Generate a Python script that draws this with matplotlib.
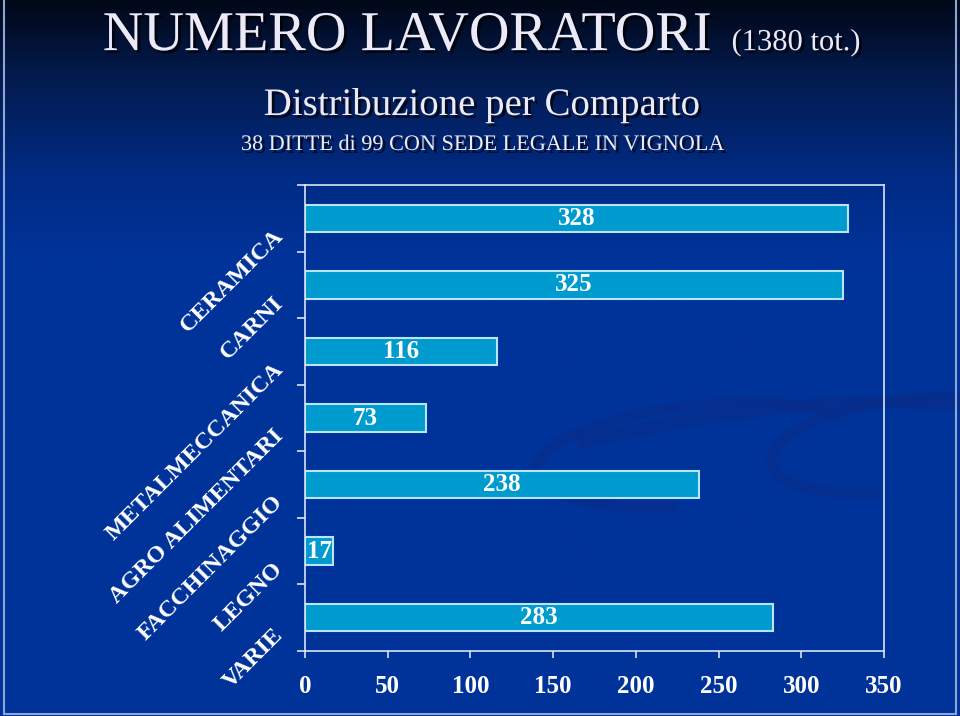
import numpy as np
import matplotlib
matplotlib.use("Agg")
import matplotlib.pyplot as plt
import matplotlib.patheffects as pe
from matplotlib.colors import LinearSegmentedColormap
from matplotlib.patches import Arc
from matplotlib.transforms import blended_transform_factory

plt.rcParams['font.family'] = ['Liberation Serif', 'DejaVu Serif']

categories = ['CERAMICA', 'CARNI', 'METALMECCANICA', 'AGRO ALIMENTARI',
              'FACCHINAGGIO', 'LEGNO', 'VARIE']
workers = [328, 325, 116, 73, 238, 17, 283]
x_ticks = [0, 50, 100, 150, 200, 250, 300, 350]

fig = plt.figure(figsize=(9.6, 7.16), dpi=100)

# background: dark navy at top fading into slide blue
bg = fig.add_axes([0, 0, 1, 1], zorder=-10)
cmap = LinearSegmentedColormap.from_list(
    'slide', [(0, '#010818'), (0.1, '#031a4c'), (0.25, '#012b86'),
              (0.36, '#003399'), (1, '#003399')])
grad = np.linspace(0, 1, 400).reshape(-1, 1)
bg.imshow(grad, cmap=cmap, aspect='auto', extent=[0, 960, 716, 0])
bg.set_xlim(0, 960)
bg.set_ylim(716, 0)
bg.axis('off')
# faint swooshes of the slide template
sw = '#0a2c86'
bg.add_patch(Arc((700, 455), 330, 100, angle=-6, theta1=120, theta2=350, color=sw, lw=8, alpha=0.45))
bg.add_patch(Arc((900, 445), 260, 90, angle=-8, theta1=120, theta2=330, color=sw, lw=8, alpha=0.45))
bg.add_patch(Arc((650, 560), 900, 260, angle=-12, theta1=250, theta2=350, color=sw, lw=10, alpha=0.45))
# light frame at slide edges
bg.plot([4, 4], [0, 714], color='#8ea6d6', lw=1.5)
bg.plot([4, 956], [714, 714], color='#8ea6d6', lw=1.5)
bg.plot([956, 956], [0, 714], color='#8ea6d6', lw=1.5)

shadow = [pe.SimplePatchShadow(offset=(2, -2), shadow_rgbFace='#000000', alpha=0.7), pe.Normal()]
txt_color = '#ECEAF8'
fig.text(0.107, 0.930, 'NUMERO LAVORATORI', fontsize=40.5, color=txt_color,
         ha='left', va='baseline', path_effects=shadow)
fig.text(0.762, 0.930, '(1380 tot.)', fontsize=22, color=txt_color,
         ha='left', va='baseline', path_effects=shadow)
fig.text(0.502, 0.8394, 'Distribuzione per Comparto', fontsize=28, color=txt_color,
         ha='center', va='baseline', path_effects=shadow)
fig.text(0.503, 0.7905, '38 DITTE di 99 CON SEDE LEGALE IN VIGNOLA', fontsize=16,
         color=txt_color, ha='center', va='baseline', path_effects=shadow)

ax = fig.add_axes([0.3177, 0.0908, 0.6031, 0.6508])
ax.set_facecolor('none')
y = np.arange(len(categories))
ax.barh(y, workers, height=0.41, color='#009BCE', edgecolor='#B8E4F4', linewidth=1.5)
for yi, v in zip(y, workers):
    ax.text(v / 2, yi, str(v), ha='center', va='center', color='white',
            fontsize=18, fontweight='bold')

ax.set_xlim(0, 350)
ax.set_ylim(len(categories) - 0.5, -0.5)
ax.set_xticks(x_ticks)
ax.set_xticklabels([str(t) for t in x_ticks], fontsize=18, fontweight='bold', color='white')
ax.tick_params(axis='x', direction='out', length=5, width=1.2, color='#D8E4F4', pad=12)

ax.set_yticks(np.arange(-0.5, len(categories), 1.0))
ax.set_yticklabels([])
ax.tick_params(axis='y', direction='out', length=6, width=1.2, color='#D8E4F4')

trans = blended_transform_factory(ax.transAxes, ax.transData)
for yi, name in zip(y, categories):
    ax.text(-0.043, yi + 0.22, name, transform=trans, rotation=45,
            rotation_mode='anchor', ha='right', va='center', color='white',
            fontsize=17.5, fontweight='bold')

for s in ax.spines.values():
    s.set_color('#D8E4F4')
    s.set_linewidth(1.2)

fig.savefig('out.png', dpi=100)
